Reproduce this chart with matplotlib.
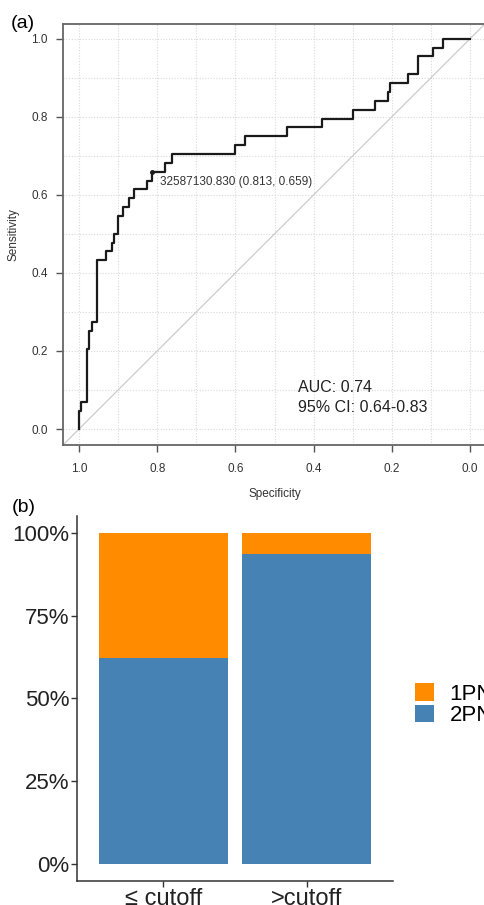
import matplotlib
matplotlib.use("Agg")
import matplotlib.pyplot as plt
from matplotlib.patches import Patch
from matplotlib.ticker import MultipleLocator, PercentFormatter

plt.rcParams['font.family'] = ['Liberation Sans', 'DejaVu Sans']

# ROC curve corners (specificity, sensitivity)
specificity = [1.000, 1.000, 0.995, 0.979, 0.974, 0.967, 0.954, 0.930, 0.916, 0.910,
               0.901, 0.887, 0.873, 0.859, 0.825, 0.813, 0.779, 0.763, 0.600, 0.575,
               0.469, 0.379, 0.299, 0.243, 0.209, 0.205, 0.158, 0.134, 0.094, 0.069,
               0.000]
sensitivity = [0.000, 0.045, 0.068, 0.205, 0.250, 0.273, 0.432, 0.455, 0.477, 0.500,
               0.545, 0.568, 0.591, 0.614, 0.636, 0.659, 0.682, 0.705, 0.727, 0.750,
               0.773, 0.795, 0.818, 0.841, 0.864, 0.886, 0.909, 0.955, 0.977, 1.000,
               1.000]
best_spec, best_sens = 0.813, 0.659
best_label = "32587130.830 (0.813, 0.659)"
auc_text = "AUC: 0.74\n95% CI: 0.64-0.83"

# stacked proportions
groups = ["\u2264 cutoff", ">cutoff"]
pn2 = [0.623, 0.934]
pn1 = [0.377, 0.066]
orange = "#FF8C00"
blue = "#4682B4"

fig = plt.figure(figsize=(4.84, 9.05), dpi=100)

# ---- (a) ROC ----
ax = fig.add_axes([63 / 484, 1 - 445 / 905, 423 / 484, 421 / 905])
ax.set_xlim(1.041, -0.041)
ax.set_ylim(-0.041, 1.038)
ax.xaxis.set_major_locator(MultipleLocator(0.2))
ax.yaxis.set_major_locator(MultipleLocator(0.2))
ax.xaxis.set_minor_locator(MultipleLocator(0.1))
ax.yaxis.set_minor_locator(MultipleLocator(0.1))
ax.grid(which="both", color="#d9d9d9", linestyle=(0, (1, 1.5)), linewidth=0.8)
ax.tick_params(which="minor", length=0)
ax.tick_params(which="major", length=5, width=1, color="#555555",
               labelsize=8.5, labelcolor="#333333")
ax.tick_params(axis="x", pad=8)
ax.tick_params(axis="y", pad=6)
for s in ax.spines.values():
    s.set_color("#666666")
    s.set_linewidth(1.3)

ax.axline((1, 0), (0, 1), color="#cccccc", linewidth=0.9, zorder=2)
ax.plot(specificity, sensitivity, drawstyle="steps-post", color="#1a1a1a",
        linewidth=1.6, zorder=3)
ax.plot(best_spec, best_sens, "o", color="#1a1a1a", markersize=2.5, zorder=4)
ax.text(best_spec - 0.02, best_sens - 0.026, best_label, fontsize=8.5,
        color="#333333", ha="left", va="center")
ax.text(0.44, 0.08, auc_text, fontsize=11.5, color="#222222", ha="left",
        va="center", linespacing=1.45)

ax.set_xlabel("Specificity", fontsize=8.5, color="#333333")
ax.set_ylabel("Sensitivity", fontsize=8.5, color="#333333")
ax.xaxis.set_label_coords(0.5, -0.102)
ax.yaxis.set_label_coords(-0.102, 0.5)

fig.text(11 / 484, 1 - 23 / 905, "(a)", fontsize=14, ha="left", va="center")

# ---- (b) stacked bars ----
bx = fig.add_axes([77 / 484, 1 - 881 / 905, 316 / 484, 365 / 905])
x = [1, 2]
bx.bar(x, pn2, width=0.9, color=blue)
bx.bar(x, pn1, width=0.9, bottom=pn2, color=orange)
bx.set_xlim(0.4, 2.6)
bx.set_ylim(-0.05, 1.05)
bx.set_xticks(x)
bx.set_xticklabels(groups)
bx.yaxis.set_major_locator(MultipleLocator(0.25))
bx.yaxis.set_major_formatter(PercentFormatter(1.0, decimals=0))
bx.tick_params(axis="y", length=4, width=1, color="#333333", pad=1.5,
               labelsize=16, labelcolor="#222222")
bx.tick_params(axis="x", length=4, width=1, color="#333333", pad=1,
               labelsize=17, labelcolor="#222222")
for side in ["top", "right"]:
    bx.spines[side].set_visible(False)
for side in ["left", "bottom"]:
    bx.spines[side].set_color("#333333")
    bx.spines[side].set_linewidth(1.1)

handles = [Patch(facecolor=orange, edgecolor="none"),
           Patch(facecolor=blue, edgecolor="none")]
fig.legend(handles, ["1PN", "2PN"], loc="center left",
           bbox_to_anchor=(415 / 484, 1 - 704.5 / 905),
           frameon=False, fontsize=16, handlelength=0.85, handleheight=0.85,
           handletextpad=0.7, labelspacing=0.0, borderpad=0, borderaxespad=0)

fig.text(12 / 484, 1 - 507 / 905, "(b)", fontsize=14, ha="left", va="center")

fig.savefig("out.png", dpi=100)
